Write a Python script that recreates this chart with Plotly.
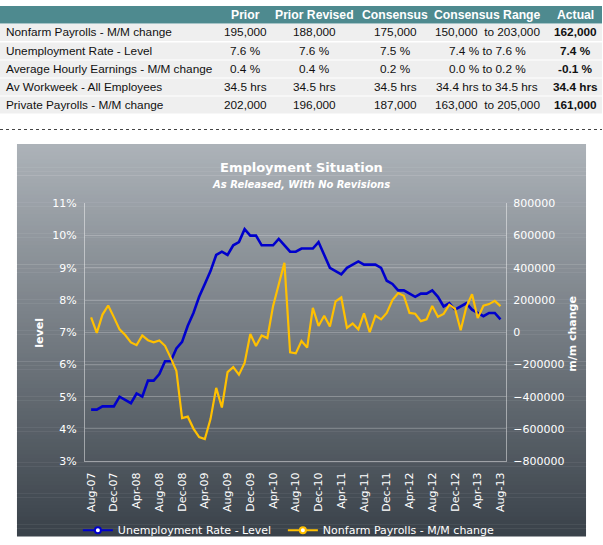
import plotly.graph_objects as go
import pandas as pd

# ---------------- data ----------------
months = [d.strftime("%b-%y") for d in pd.date_range("2007-08-01", "2013-08-01", freq="MS")]

unemployment = [4.6, 4.6, 4.7, 4.7, 4.7,
                5.0, 4.9, 4.8, 5.1, 5.0, 5.5, 5.5, 5.7, 6.1, 6.1, 6.5, 6.7,
                7.2, 7.6, 8.1, 8.5, 8.9, 9.4, 9.5, 9.4, 9.7, 9.8, 10.2, 10.0,
                10.0, 9.7, 9.7, 9.7, 9.9, 9.7, 9.5, 9.5, 9.6, 9.6, 9.6, 9.8,
                9.4, 9.0, 8.9, 8.8, 9.0, 9.1, 9.2, 9.1, 9.1, 9.1, 9.0, 8.6,
                8.5, 8.3, 8.3, 8.2, 8.1, 8.2, 8.2, 8.3, 8.1, 7.8, 7.9, 7.7,
                7.8, 7.9, 7.7, 7.6, 7.5, 7.6, 7.6, 7.4]

payrolls = [92000, -4000, 110000, 166000, 94000,
            18000, -17000, -63000, -80000, -20000, -49000, -62000, -51000, -84000, -159000, -240000, -533000,
            -524000, -598000, -651000, -663000, -539000, -345000, -467000, -247000, -216000, -263000, -190000, -11000,
            -85000, -20000, -36000, 162000, 290000, 431000, -125000, -131000, -54000, -95000, 151000, 39000,
            103000, 36000, 192000, 216000, 27000, 54000, 18000, 117000, 0, 103000, 80000, 120000,
            200000, 243000, 227000, 120000, 115000, 69000, 80000, 163000, 96000, 114000, 171000, 146000,
            13000, 157000, 236000, 88000, 165000, 175000, 195000, 162000]

tick_labels = months[::4]

table_header = ["Prior", "Prior Revised", "Consensus", "Consensus Range", "Actual"]
row_labels = ["Nonfarm Payrolls - M/M change", "Unemployment Rate - Level",
              "Average Hourly Earnings - M/M change", "Av Workweek - All Employees",
              "Private Payrolls - M/M change"]
col_prior = ["195,000", "7.6 %", "0.4 %", "34.5 hrs", "202,000"]
col_prior_rev = ["188,000", "7.6 %", "0.4 %", "34.5 hrs", "196,000"]
col_consensus = ["175,000", "7.5 %", "0.2 %", "34.5 hrs", "187,000"]
col_range = ["150,000  to 203,000", "7.4 % to 7.6 %", "0.0 % to 0.2 %", "34.4 hrs to 34.5 hrs", "163,000  to 205,000"]
col_actual = ["162,000", "7.4 %", "-0.1 %", "34.4 hrs", "161,000"]

# ---------------- geometry helpers ----------------
W, H = 603, 545
def px(x):
    return x / W
def py(y):
    return 1 - y / H

BLUE = "#0000CC"
GOLD = "#FFC000"
FONT = "DejaVu Sans"
TFONT = "Liberation Sans, Arial"
TSIZE = 11.8

fig = go.Figure()

fig.add_trace(go.Scatter(x=months, y=unemployment, mode="lines", name="Unemployment Rate - Level",
                         line=dict(color=BLUE, width=2.6), yaxis="y", showlegend=False))
fig.add_trace(go.Scatter(x=months, y=payrolls, mode="lines", name="Nonfarm Payrolls - M/M change",
                         line=dict(color=GOLD, width=2.2), yaxis="y2", showlegend=False))
# legend entries
fig.add_trace(go.Scatter(x=[None], y=[None], mode="lines+markers", name="Unemployment Rate - Level",
                         line=dict(color=BLUE, width=2), legendwidth=160,
                         marker=dict(color="white", size=6, line=dict(color=BLUE, width=2))))
fig.add_trace(go.Scatter(x=[None], y=[None], mode="lines+markers", name="Nonfarm Payrolls - M/M change",
                         line=dict(color=GOLD, width=2), yaxis="y2", legendwidth=210,
                         marker=dict(color="white", size=6, line=dict(color=GOLD, width=2))))

shapes = []
# table header bar
shapes.append(dict(type="rect", xref="paper", yref="paper", x0=0, x1=1, y0=py(18), y1=py(0),
                   fillcolor="#4e8a8f", line=dict(width=0), layer="below"))
# table rows
row_y = [27, 46, 64.5, 83, 101.5]
for ry in row_y:
    shapes.append(dict(type="rect", xref="paper", yref="paper", x0=0, x1=1,
                       y0=py(ry + 9), y1=py(ry - 8.5),
                       fillcolor="#efefef", line=dict(width=0), layer="below"))
# dotted separator
shapes.append(dict(type="line", xref="paper", yref="paper", x0=0, x1=1, y0=py(127), y1=py(127),
                   line=dict(color="#444444", width=1, dash="dot")))
# gradient chart box
top, bot = 142, 545
n = 101
c0 = (172, 178, 184)
c1 = (58, 66, 74)
for i in range(n):
    t = i / (n - 1)
    c = tuple(int(round(c0[k] + (c1[k] - c0[k]) * t)) for k in range(3))
    y0 = top + (bot - top) * i / n
    y1 = top + (bot - top) * (i + 1) / n
    shapes.append(dict(type="rect", xref="paper", yref="paper", x0=px(17), x1=px(587),
                       y0=py(y1 + 0.5), y1=py(y0), fillcolor="rgb(%d,%d,%d)" % c,
                       line=dict(width=0), layer="below"))

annotations = []
col_x = [246, 315, 396, 488, 576]
for cx, h in zip(col_x, table_header):
    annotations.append(dict(text="<b>%s</b>" % h, x=px(cx), y=py(9), xref="paper", yref="paper",
                            showarrow=False, xanchor="center", yanchor="middle",
                            font=dict(family=TFONT, size=TSIZE + 0.4, color="white")))
cols = [col_prior, col_prior_rev, col_consensus, col_range, col_actual]
for r, ry in enumerate(row_y):
    annotations.append(dict(text=row_labels[r], x=px(4), y=py(ry), xref="paper", yref="paper",
                            showarrow=False, xanchor="left", yanchor="middle",
                            font=dict(family=TFONT, size=TSIZE, color="#111111")))
    for c, cx in enumerate(col_x):
        txt = cols[c][r]
        if c == 4:
            txt = "<b>%s</b>" % txt
        annotations.append(dict(text=txt.replace("  ", "&nbsp; "), x=px(cx), y=py(ry), xref="paper", yref="paper",
                                showarrow=False, xanchor="center", yanchor="middle",
                                font=dict(family=TFONT, size=TSIZE, color="#111111")))

# chart titles
annotations.append(dict(text="<b>Employment Situation</b>", x=px(302), y=py(166), xref="paper", yref="paper",
                        showarrow=False, xanchor="center", yanchor="middle",
                        font=dict(family=FONT, size=13, color="white")))
annotations.append(dict(text="<b><i>As Released, With No Revisions</i></b>", x=px(302), y=py(184),
                        xref="paper", yref="paper", showarrow=False, xanchor="center", yanchor="middle",
                        font=dict(family=FONT, size=10, color="white")))
annotations.append(dict(text="<b>level</b>", x=px(40), y=py(336), xref="paper", yref="paper",
                        showarrow=False, textangle=-90, xanchor="center", yanchor="middle",
                        font=dict(family=FONT, size=11, color="white")))
annotations.append(dict(text="<b>m/m change</b>", x=px(574), y=py(337), xref="paper", yref="paper",
                        showarrow=False, textangle=-90, xanchor="center", yanchor="middle",
                        font=dict(family=FONT, size=11, color="white")))

grid = "rgba(255,255,255,0.22)"
axline = "rgba(255,255,255,0.45)"

fig.update_layout(
    width=W, height=H,
    margin=dict(l=0, r=0, t=0, b=0),
    paper_bgcolor="white",
    plot_bgcolor="rgba(0,0,0,0)",
    shapes=shapes,
    annotations=annotations,
    xaxis=dict(domain=[px(85), px(507)], type="category", range=[-1.1, 73.0],
               tickmode="array", tickvals=tick_labels, ticktext=tick_labels,
               tickangle=-90, showgrid=False, showline=True, linecolor=axline, linewidth=1,
               ticks="", ticklabelstandoff=6,
               tickfont=dict(family=FONT, size=11, color="white"), zeroline=False, fixedrange=True),
    yaxis=dict(domain=[py(468), py(203)], range=[3, 11], dtick=1, ticksuffix="%",
               showgrid=True, gridcolor=grid, gridwidth=1, showline=True, linecolor=axline,
               ticks="", ticklabelstandoff=5, zeroline=False,
               tickfont=dict(family=FONT, size=11, color="white")),
    yaxis2=dict(domain=[py(468), py(203)], range=[-800000, 800000], dtick=200000, tickformat="d",
                overlaying="y", side="right", showgrid=False, showline=True, linecolor=axline,
                ticks="", ticklabelstandoff=4, zeroline=False, anchor="x",
                tickfont=dict(family=FONT, size=11, color="white")),
    legend=dict(orientation="h", x=px(78), y=py(539), xanchor="left", yanchor="middle",
                bgcolor="rgba(0,0,0,0)", font=dict(family=FONT, size=11, color="white"),
                itemwidth=30),
)

fig.write_html("out.html")
